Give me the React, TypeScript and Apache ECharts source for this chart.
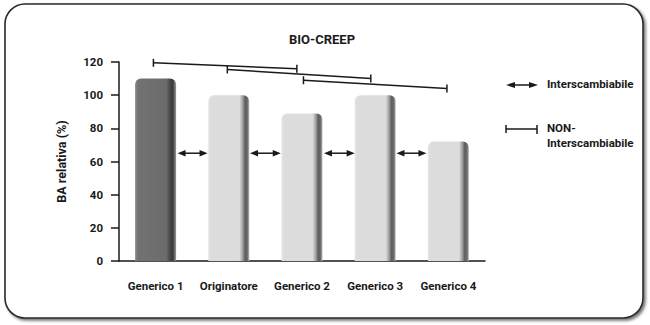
import React, { useEffect, useRef } from "react";
import * as echarts from "echarts";

const categories = ["Generico 1", "Originatore", "Generico 2", "Generico 3", "Generico 4"];
const baValues = [110, 100, 89, 100, 72];
const yTicks = { min: 0, max: 120, step: 20 };
// interchangeable arrows: [fromIndex, toIndex, level]
const arrowLinks = [
  [0.3, 0.71, 65],
  [1.29, 1.71, 65],
  [2.3, 2.72, 65],
  [3.29, 3.7, 65],
];
// non-interchangeable brackets: [x1, y1, x2, y2]
const brackets = [
  [-0.03, 119.5, 1.93, 116],
  [0.98, 115.5, 2.94, 110],
  [2.02, 109, 3.98, 104],
];
const titleText = "BIO-CREEP";
const yAxisName = "BA relativa (%)";
const legendLabels = ["Interscambiabile", "NON-\nInterscambiabile"];

const FONT = "Roboto, 'Noto Sans', sans-serif";
const INK = "#1a1a1a";

const lightGrad = {
  type: "linear", x: 0, y: 0, x2: 1, y2: 0,
  colorStops: [
    { offset: 0, color: "#e4e4e4" },
    { offset: 0.07, color: "#dcdcdc" },
    { offset: 0.76, color: "#dcdcdc" },
    { offset: 0.83, color: "#a6a6a6" },
    { offset: 0.9, color: "#5c5c5c" },
    { offset: 0.96, color: "#707070" },
    { offset: 1, color: "#c4c4c4" },
  ],
};
const darkGrad = {
  type: "linear", x: 0, y: 0, x2: 1, y2: 0,
  colorStops: [
    { offset: 0, color: "#8c8c8c" },
    { offset: 0.07, color: "#727272" },
    { offset: 0.76, color: "#6c6c6c" },
    { offset: 0.84, color: "#4c4c4c" },
    { offset: 0.92, color: "#383838" },
    { offset: 1, color: "#999999" },
  ],
};

const GRID = { left: 119, right: 165, top: 62, bottom: 64, containLabel: false };
const hiddenAxis = {
  show: false,
  splitLine: { show: false },
  axisLine: { show: false, onZero: false },
  axisTick: { show: false },
  axisLabel: { show: false },
};

export default function App() {
  const ref = useRef<HTMLDivElement>(null);
  useEffect(() => {
    document.body.style.margin = "0";
    const chart = echarts.init(ref.current!, null, { renderer: "svg" });
    const option: any = {
      animation: false,
      backgroundColor: "#ffffff",
      title: {
        text: titleText,
        left: 317,
        top: 28,
        textAlign: "center",
        textStyle: { fontFamily: FONT, fontSize: 13, fontWeight: "bold", color: INK },
      },
      grid: [GRID, { ...GRID }],
      xAxis: [
        {
          type: "category",
          gridIndex: 0,
          data: categories,
          boundaryGap: true,
          splitLine: { show: false },
          axisLine: { onZero: false, lineStyle: { color: INK, width: 1.5 } },
          axisTick: { alignWithLabel: true, length: 5, lineStyle: { color: INK, width: 1.5 } },
          axisLabel: { interval: 0, margin: 19, fontFamily: FONT, fontSize: 11.5, fontWeight: "bold", color: INK },
        },
        { type: "value", gridIndex: 1, min: -0.5, max: 4.5, ...hiddenAxis },
      ],
      yAxis: [
        {
          type: "value",
          gridIndex: 0,
          min: yTicks.min,
          max: yTicks.max,
          interval: yTicks.step,
          name: yAxisName,
          nameLocation: "middle",
          nameGap: 51,
          nameTextStyle: { fontFamily: FONT, fontSize: 12.5, fontWeight: "bold", color: INK },
          splitLine: { show: false },
          axisLine: { show: true, onZero: false, lineStyle: { color: INK, width: 1.5 } },
          axisTick: { show: true, length: 8, lineStyle: { color: INK, width: 1.5 } },
          axisLabel: { margin: 16, fontFamily: FONT, fontSize: 11.5, fontWeight: "bold", color: INK },
        },
        { type: "value", gridIndex: 1, min: yTicks.min, max: yTicks.max, ...hiddenAxis },
      ],
      graphic: [
        {
          type: "rect",
          z: -10,
          shape: { x: 5, y: 4, width: 638, height: 314, r: 20 },
          style: {
            fill: "#ffffff",
            stroke: "#2a2a2a",
            lineWidth: 1.6,
            shadowBlur: 3,
            shadowOffsetX: 2,
            shadowOffsetY: 2,
            shadowColor: "rgba(0,0,0,0.55)",
          },
        },
        { type: "line", shape: { x1: 509, y1: 85, x2: 535, y2: 85 }, style: { stroke: INK, lineWidth: 1.5 } },
        { type: "polygon", shape: { points: [[506, 85], [515, 82], [515, 88]] }, style: { fill: INK } },
        { type: "polygon", shape: { points: [[538, 85], [529, 82], [529, 88]] }, style: { fill: INK } },
        {
          type: "text", left: 547, top: 78,
          style: { text: legendLabels[0], fontFamily: FONT, fontSize: 11.5, fontWeight: "bold", fill: INK },
        },
        { type: "line", shape: { x1: 506, y1: 129, x2: 537, y2: 129 }, style: { stroke: INK, lineWidth: 1.5 } },
        { type: "line", shape: { x1: 506, y1: 125, x2: 506, y2: 133 }, style: { stroke: INK, lineWidth: 1.5 } },
        { type: "line", shape: { x1: 537, y1: 125, x2: 537, y2: 134 }, style: { stroke: INK, lineWidth: 1.5 } },
        {
          type: "text", left: 547, top: 120,
          style: { text: legendLabels[1], fontFamily: FONT, fontSize: 11.5, fontWeight: "bold", fill: INK, lineHeight: 15 },
        },
      ],
      series: [
        {
          type: "bar",
          xAxisIndex: 0,
          yAxisIndex: 0,
          barWidth: 41,
          z: 2,
          data: baValues.map((v, i) => ({
            value: v,
            itemStyle: {
              color: i === 0 ? darkGrad : lightGrad,
              borderRadius: [6, 6, 0, 0],
            },
          })),
        },
        {
          type: "custom",
          xAxisIndex: 1,
          yAxisIndex: 1,
          clip: false,
          silent: true,
          z: 4,
          encode: { x: [0, 1], y: 2 },
          data: arrowLinks,
          renderItem: (_params: any, api: any) => {
            const a = api.coord([api.value(0), api.value(2)]);
            const b = api.coord([api.value(1), api.value(2)]);
            const y = a[1];
            const hl = 8;
            const hw = 3.2;
            return {
              type: "group",
              children: [
                { type: "line", shape: { x1: a[0] + 3, y1: y, x2: b[0] - 3, y2: y }, style: { stroke: INK, lineWidth: 1.5 } },
                { type: "polygon", shape: { points: [[a[0], y], [a[0] + hl, y - hw], [a[0] + hl, y + hw]] }, style: { fill: INK } },
                { type: "polygon", shape: { points: [[b[0], y], [b[0] - hl, y - hw], [b[0] - hl, y + hw]] }, style: { fill: INK } },
              ],
            };
          },
        },
        {
          type: "custom",
          xAxisIndex: 1,
          yAxisIndex: 1,
          clip: false,
          silent: true,
          z: 4,
          encode: { x: [0, 2], y: [1, 3] },
          data: brackets,
          renderItem: (_params: any, api: any) => {
            const p1 = api.coord([api.value(0), api.value(1)]);
            const p2 = api.coord([api.value(2), api.value(3)]);
            const st = { stroke: INK, lineWidth: 1.5 };
            return {
              type: "group",
              children: [
                { type: "line", shape: { x1: p1[0], y1: p1[1], x2: p2[0], y2: p2[1] }, style: st },
                { type: "line", shape: { x1: p1[0], y1: p1[1] - 4, x2: p1[0], y2: p1[1] + 4 }, style: st },
                { type: "line", shape: { x1: p2[0], y1: p2[1] - 4, x2: p2[0], y2: p2[1] + 4 }, style: st },
              ],
            };
          },
        },
      ],
    };
    chart.setOption(option);
    return () => chart.dispose();
  }, []);
  return <div ref={ref} style={{ width: 650, height: 325 }} />;
}
